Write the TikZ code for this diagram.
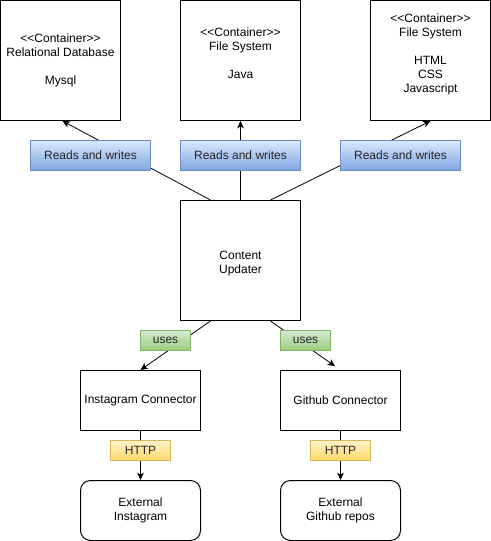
\documentclass[tikz,border=0pt]{standalone}
\usepackage{fontspec}
\setmainfont{Liberation Sans}
\usetikzlibrary{arrows.meta,calc}
\begin{document}
\begin{tikzpicture}[x=0.75pt,y=-0.75pt,
  every node/.style={font=\fontsize{9}{10.5}\selectfont, align=center, inner sep=0pt},
  box/.style={draw, line width=0.75pt, minimum width=90pt, minimum height=90pt},
  conn/.style={draw, line width=0.75pt, minimum width=90pt, minimum height=45pt},
  ext/.style={draw, line width=0.75pt, rounded corners=7.5pt, minimum width=90pt, minimum height=45pt},
  bluelbl/.style={line width=0.6pt, shading angle=0, minimum width=90pt, minimum height=22.5pt, text=black!85},
  greenlbl/.style={draw={rgb,255:red,130;green,179;blue,102}, line width=0.6pt, top color={rgb,255:red,213;green,232;blue,212}, bottom color={rgb,255:red,151;green,208;blue,119}, minimum width=37.5pt, minimum height=15pt, text=black!85},
  yellowlbl/.style={draw={rgb,255:red,214;green,182;blue,86}, line width=0.6pt, top color={rgb,255:red,255;green,242;blue,204}, bottom color={rgb,255:red,255;green,217;blue,102}, minimum width=45pt, minimum height=15pt, text=black!85},
  edge/.style={line width=0.6pt, -{Stealth[length=5.5pt,width=5pt,inset=1.5pt]}}
]
\useasboundingbox (-0.5,-0.5) rectangle (490.5,540.5);
\definecolor{bluetop}{RGB}{218,232,252}
\definecolor{bluebot}{RGB}{126,166,224}
\definecolor{bluestroke}{RGB}{108,142,191}
\tikzset{bluelbl/.append style={draw=bluestroke, top color=bluetop, bottom color=bluebot}}

\node[box] (db) at (60,60) {<{}<Container>{}>\\Relational Database\\~\\Mysql};
\node[box] (fs1) at (240,60) {<{}<Container>{}>\\File System\\~\\Java\\~};
\node[box] (fs2) at (430,60) {<{}<Container>{}>\\File System\\~\\HTML\\CSS\\Javascript\\~};
\node[box] (cu) at (240,260) {~\\Content\\Updater};
\node[conn] (ig) at (140,400) {Instagram Connector};
\node[conn] (gh) at (340,400) {Github Connector};
\node[ext] (ei) at (140,510) {External\\Instagram};
\node[ext] (eg) at (340,510) {External\\Github repos};

\draw[edge] ($(cu.north)+(-30,0)$) -- ($(db.south)+(2,0)$);
\draw[edge] (cu.north) -- (fs1.south);
\draw[edge] ($(cu.north)+(30,0)$) -- (fs2.south);
\draw[edge] ($(cu.south)+(-30,0)$) -- (ig.north);
\draw[edge, shorten >=5pt] ($(cu.south)+(30,0)$) -- (gh.north);
\draw[edge] (ig.south) -- (ei.north);
\draw[edge] (gh.south) -- (eg.north);

\node[bluelbl] (l1) at (90,155) {Reads and writes};
\node[bluelbl] (l2) at (240,155) {Reads and writes};
\node[bluelbl] (l3) at (400,155) {Reads and writes};
\node[greenlbl] (u1) at (165,340) {uses};
\node[greenlbl] (u2) at (305,340) {uses};
\node[yellowlbl] (h1) at (140,450) {HTTP};
\node[yellowlbl] (h2) at (340,450) {HTTP};
\end{tikzpicture}
\end{document}
